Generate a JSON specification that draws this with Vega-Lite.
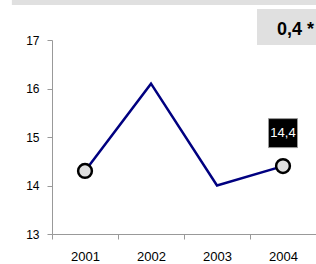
{
  "$schema": "https://vega.github.io/schema/vega-lite/v6.json",
  "width": 264,
  "height": 194,
  "autosize": {"type": "none"},
  "padding": {"left": 52, "top": 40, "right": 0, "bottom": 30},
  "background": "white",
  "config": {
    "view": {"stroke": null},
    "font": "Liberation Sans",
    "locale": {"number": {"decimal": ",", "thousands": ".", "grouping": [3], "currency": ["", " €"]}},
    "axis": {
      "domainColor": "#999999",
      "tickColor": "#999999",
      "labelColor": "#000000",
      "labelFont": "Liberation Sans",
      "labelFontSize": 12,
      "tickSize": 5,
      "grid": false,
      "title": null
    }
  },
  "layer": [
    {
      "data": {"values": [{}]},
      "layer": [
        {
          "mark": {"type": "rect", "fill": "#e0e0e0"},
          "encoding": {
            "x": {"datum": -0.152, "type": "quantitative", "scale": {"domain": [0, 1], "nice": false, "zero": false}, "axis": null},
            "x2": {"datum": 1.0},
            "y": {"datum": 17.825, "type": "quantitative", "scale": {"domain": [13, 17], "nice": false, "zero": false}, "axis": null},
            "y2": {"datum": 17.72}
          }
        },
        {
          "mark": {"type": "rect", "fill": "#e0e0e0"},
          "encoding": {
            "x": {"datum": 0.7765, "type": "quantitative", "scale": {"domain": [0, 1], "nice": false, "zero": false}, "axis": null},
            "x2": {"datum": 1.0},
            "y": {"datum": 17.64, "type": "quantitative", "scale": {"domain": [13, 17], "nice": false, "zero": false}, "axis": null},
            "y2": {"datum": 16.897}
          }
        },
        {
          "mark": {"type": "text", "align": "left", "baseline": "alphabetic", "fontSize": 18, "fontWeight": "bold", "color": "#000000", "font": "Liberation Sans"},
          "encoding": {
            "x": {"datum": 0.852, "type": "quantitative", "scale": {"domain": [0, 1], "nice": false, "zero": false}, "axis": null},
            "y": {"datum": 17.103, "type": "quantitative", "scale": {"domain": [13, 17], "nice": false, "zero": false}, "axis": null},
            "text": {"value": "0,4 *"}
          }
        }
      ]
    },
    {
      "data": {"values": [
        {"year": "2001", "value": 14.3},
        {"year": "2002", "value": 16.1},
        {"year": "2003", "value": 14.0},
        {"year": "2004", "value": 14.4}
      ]},
      "encoding": {
        "x": {
          "field": "year", "type": "ordinal",
          "scale": {"type": "band", "paddingInner": 0, "paddingOuter": 0},
          "axis": {"title": null, "tickBand": "extent", "labelAngle": 0, "labelPadding": 11, "labelFontSize": 13}
        },
        "y": {
          "field": "value", "type": "quantitative",
          "scale": {"domain": [13, 17], "nice": false, "zero": false},
          "axis": {"title": null, "values": [13, 14, 15, 16, 17], "labelPadding": 8, "labelFontSize": 12}
        }
      },
      "layer": [
        {"mark": {"type": "line", "color": "#000080", "strokeWidth": 2.5}},
        {
          "transform": [{"filter": "datum.year == '2001' || datum.year == '2004'"}],
          "mark": {"type": "point", "shape": "circle", "filled": true, "fill": "#e0e0e0", "stroke": "#000000", "strokeWidth": 2.5, "size": 190, "opacity": 1}
        },
        {
          "transform": [{"filter": "datum.year == '2004'"}],
          "mark": {"type": "point", "shape": "square", "filled": true, "fill": "#000000", "stroke": "#999999", "strokeWidth": 1, "size": 841, "opacity": 1},
          "encoding": {"yOffset": {"value": -33}}
        },
        {
          "transform": [{"filter": "datum.year == '2004'"}],
          "mark": {"type": "text", "color": "#ffffff", "fontSize": 13, "font": "Liberation Sans", "baseline": "middle", "align": "center", "dy": -33},
          "encoding": {"text": {"field": "value", "type": "quantitative", "format": ".1f"}}
        }
      ]
    }
  ],
  "resolve": {"scale": {"x": "independent", "y": "independent"}, "axis": {"x": "independent", "y": "independent"}}
}
